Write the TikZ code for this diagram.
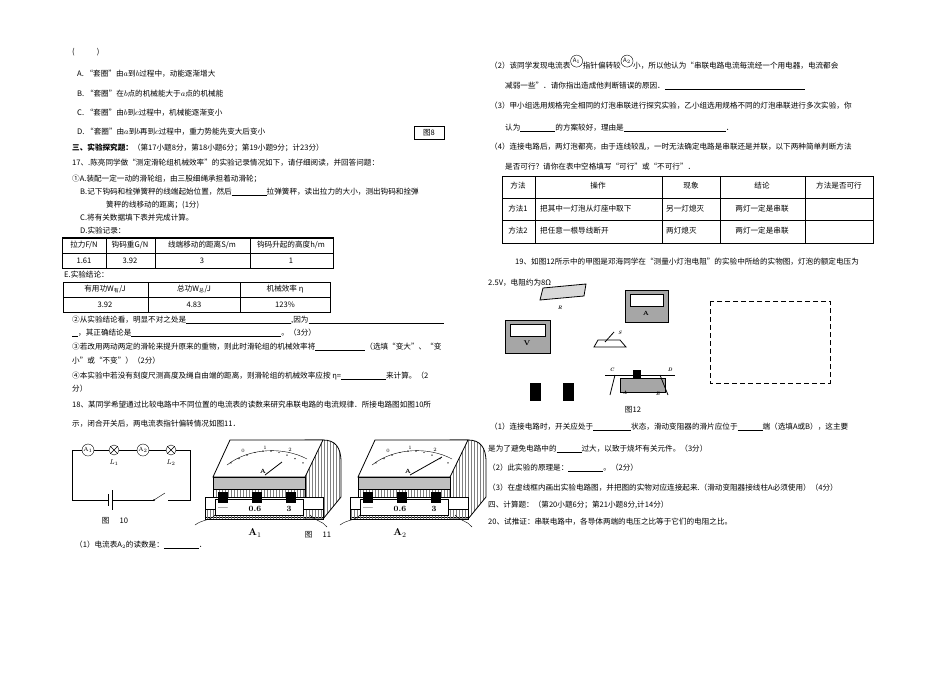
\documentclass[tikz,border=0pt]{standalone}
\usepackage{fontspec}
\newfontfamily\cjk{Noto Sans CJK SC}
\usetikzlibrary{patterns}
\tikzset{
 tx/.style={anchor=west,inner sep=0,font=\cjk\fontsize{7.6}{9}\selectfont},
 tc/.style={inner sep=0,font=\cjk\fontsize{7.6}{9}\selectfont},
 circ/.style={draw,circle,minimum size=12pt,inner sep=0,font=\fontsize{6}{6}\selectfont},
 lamp/.style={draw,circle,minimum size=10pt,inner sep=0},
 hatch/.style={pattern=vertical lines,pattern color=gray},
}
\newcommand\bl[1]{\rule[-1pt]{#1pt}{0.4pt}}
\newcommand\mymeter[4]{%
\begin{scope}[shift={(#1,#2)}]
 \draw[thick,hatch] (100,3) -- (118,3) .. controls (130,3) and (136,10) .. (136,25) -- (136,60) -- (118,82) -- (100,82) -- cycle;
 \draw[thick,fill=white] (25,3) -- (118,3) -- (100,40) -- (8,40) -- cycle;
 \draw[fill=gray!50] (8,40) -- (100,40) -- (100,52) -- (8,52) -- cycle;
 \draw[hatch] (8,52) rectangle (100,60);
 \draw[thick,fill=white] (0,60) rectangle (118,80);
 \draw[hatch] (0,72) rectangle (118,82);
 \draw[fill=white] (10,62) rectangle (98,78);
 \foreach \u in {18,52,86}{\fill (\u-5,55) rectangle (\u+5,66);}
 \node[font=\bfseries\fontsize{8}{8}\selectfont] at (18,72) {---};
 \node[font=\bfseries\fontsize{8}{8}\selectfont] at (50,72) {0.6};
 \node[font=\bfseries\fontsize{8}{8}\selectfont] at (84,72) {3};
 \draw (22,28) .. controls (45,10) and (80,10) .. (102,22);
 \foreach \q in {0.05,0.15,...,1}{\fill ({22+80*\q},{28-14*sin(180*\q)}) circle (0.7);}
 \node[font=\fontsize{5}{5}\selectfont] at (38,14) {0};
 \node[font=\fontsize{5}{5}\selectfont] at (60,11) {1};
 \node[font=\fontsize{5}{5}\selectfont] at (85,13) {2};
 \draw[thick] (60,38) -- (#3);
 \node[font=\bfseries\fontsize{6}{6}\selectfont] at (58,34) {A};
 \draw (-10,88) .. controls (-2,82) and (5,84) .. (10,78);
 \draw (105,78) .. controls (110,84) and (118,84) .. (122,90);
 \node[font=\bfseries\fontsize{10}{10}\selectfont] at (50,96) {#4};
\end{scope}}
\begin{document}
\begin{tikzpicture}[x=1pt,y=-1pt]
\useasboundingbox[fill=white] (0,0) rectangle (950,672);
% ---------- left column
\node[tx] (q0) at (72,52) {(\hspace{22pt})};
\node[tx] (qa) at (77,74) {A.\ “套圈”由$a$到$b$过程中，动能逐渐增大};
\node[tx] (qb) at (77,94) {B.\ “套圈”在$b$点的机械能大于$a$点的机械能};
\node[tx] (qc) at (77,113) {C.\ “套圈”由$b$到$c$过程中，机械能逐渐变小};
\node[tx] (qd) at (77,132) {D.\ “套圈”由$a$到$b$再到$c$过程中，重力势能先变大后变小};
\node[tc,draw,inner sep=3pt,minimum width=30pt] (f8) at (429,133) {图8};
\node[tx] (s3) at (72,148) {\textbf{三、实验探究题：}（第17小题8分，第18小题6分；第19小题9分；计23分）};
\node[tx] (q17) at (72,163) {17、.陈亮同学做“测定滑轮组机械效率”的实验记录情况如下，请仔细阅读，并回答问题：};
\node[tx] (q17a) at (72,179) {①A.装配一定一动的滑轮组，由三股细绳承担着动滑轮；};
\node[tx] (q17b) at (80,192) {B.记下钩码和栓弹簧秤的线端起始位置，然后\bl{35}拉弹簧秤，读出拉力的大小，测出钩码和拴弹};
\node[tx] (q17b2) at (106,205) {簧秤的线移动的距离；(1分)};
\node[tx] (q17c) at (80,218) {C.将有关数据填下表并完成计算。};
\node[tx] (q17d) at (80,231) {D.实验记录：};
\draw (62,237) -- (334,237);
\draw (62,238) rectangle (333,268) (62,253) -- (333,253);
\foreach \x in {106,155,250} \draw (\x,238) -- (\x,268);
\node[tc] at (84,245) {拉力F/N}; \node[tc] at (130,245) {钩码重G/N};
\node[tc] at (202,245) {线端移动的距离S/m}; \node[tc] at (291,245) {钩码升起的高度h/m};
\node[tc] at (84,261) {1.61}; \node[tc] at (130,261) {3.92};
\node[tc] at (202,261) {3}; \node[tc] at (291,261) {1};
\node[tx] (qe) at (64,275) {E.实验结论：};
\draw (63,282) rectangle (330,312) (63,297) -- (330,297);
\foreach \x in {148,240} \draw (\x,282) -- (\x,312);
\node[tc] at (105,289) {有用功W$_{\mbox{\tiny 有}}$/J}; \node[tc] at (194,289) {总功W$_{\mbox{\tiny 总}}$/J};
\node[tc] at (285,289) {机械效率 η};
\node[tc] at (105,305) {3.92}; \node[tc] at (194,305) {4.83}; \node[tc] at (285,305) {123\%};
\node[tx] (q2) at (72,320) {②从实验结论看，明显不对之处是\bl{105},因为\bl{135}};
\node[tx] (q2b) at (72,333) {\bl{6}，其正确结论是\bl{150}。（3分）};
\node[tx] (q3) at (72,347) {③若改用两动两定的滑轮来提升原来的重物，则此时滑轮组的机械效率将\bl{50}（选填“变大”、“变};
\node[tx] (q3b) at (72,361) {小”或“不变”）（2分）};
\node[tx] (q4) at (72,376) {④本实验中若没有刻度尺测高度及绳自由端的距离，则滑轮组的机械效率应按 η=\bl{45}来计算。（2};
\node[tx] (q4b) at (72,389) {分）};
\node[tx] (q18) at (72,405) {18、某同学希望通过比较电路中不同位置的电流表的读数来研究串联电路的电流规律．所接电路图如图10所};
\node[tx] (q18b) at (72,424) {示，闭合开关后，两电流表指针偏转情况如图11．};
% circuit fig 10
\node[circ] (a1) at (88,450) {A$_1$};
\node[lamp] (l1) at (114,450) {};
\node[circ] (a2) at (143,450) {A$_2$};
\node[lamp] (l2) at (171,450) {};
\foreach \n in {l1,l2}{\draw (\n.north west)--(\n.south east) (\n.north east)--(\n.south west);}
\node[tc,font=\itshape\fontsize{7}{7}\selectfont] at (114,463) {L$_1$};
\node[tc,font=\itshape\fontsize{7}{7}\selectfont] at (171,463) {L$_2$};
\coordinate (tl) at (72,450); \coordinate (tr) at (190,450);
\coordinate (bl) at (72,500); \coordinate (br) at (190,500);
\coordinate (b1) at (108,500); \coordinate (b2) at (112,500);
\coordinate (s1) at (154,500); \coordinate (s2) at (165,493); \coordinate (s3) at (168,500);
\draw (a1.east)--(l1.west) (l1.east)--(a2.west) (a2.east)--(l2.west);
\draw (l2.east)--(tr)--(br)--(s3) (s1)--(b2) (b1)--(bl)--(tl)--(a1.west);
\draw[thick] (108,494)--(108,506); \draw (112,490)--(112,510);
\draw (s1)--(s2); \fill (s1) circle (1);
\node[tc] (f10) at (115,521) {图\hspace{10pt}10};
% meters fig 11
\mymeter{205}{437}{77,25}{A$_1$}
\mymeter{350}{437}{92,20}{A$_2$}
\node[tc] (f11) at (318,535) {图\hspace{10pt}11};
\node[tx] (q181) at (75,545) {（1）电流表A$_2$的读数是：\bl{35}．};
% ---------- right column
\node[tx] (r2) at (490,62) {（2）该同学发现电流表\raisebox{1pt}{\tikz\node[circ]{A$_1$};}指针偏转较\raisebox{1pt}{\tikz\node[circ]{A$_2$};}小，所以他认为“串联电路电流每流经一个用电器，电流都会};
\node[tx] (r2b) at (505,86) {减弱一些”．请你指出造成他判断错误的原因．\rule[-1pt]{140pt}{0.6pt}};
\node[tx] (r3) at (490,106) {（3）甲小组选用规格完全相同的灯泡串联进行探究实验，乙小组选用规格不同的灯泡串联进行多次实验，你};
\node[tx] (r3b) at (505,128) {认为\bl{35}的方案较好，理由是\rule[-1pt]{102pt}{0.6pt}．};
\node[tx] (r4) at (490,147) {（4）连接电路后，两灯泡都亮，由于连线较乱，一时无法确定电路是串联还是并联，以下两种简单判断方法};
\node[tx] (r4b) at (505,167) {是否可行？请你在表中空格填写“可行”或“不可行”．};
\draw[thick] (502,176) rectangle (873,243);
\draw (502,198)--(873,198) (502,220)--(873,220);
\foreach \x in {535,662,720,805} \draw (\x,176)--(\x,243);
\node[tc] at (518,186) {方法}; \node[tc] at (598,186) {操作}; \node[tc] at (691,186) {现象};
\node[tc] at (762,186) {结论}; \node[tc] at (839,186) {方法是否可行};
\node[tc] at (518,209) {方法1}; \node[tx] at (540,209) {把其中一灯泡从灯座中取下};
\node[tx] at (666,209) {另一灯熄灭}; \node[tc] at (762,209) {两灯一定是串联};
\node[tc] at (518,231) {方法2}; \node[tx] at (540,231) {把任意一根导线断开};
\node[tx] at (666,231) {两灯熄灭}; \node[tc] at (762,231) {两灯一定是串联};
\node[tx] (r19) at (515,262) {19、如图12所示中的甲图是邓海同学在“测量小灯泡电阻”的实验中所给的实物图，灯泡的额定电压为};
\node[tx] (r19b) at (488,283) {2.5V，电阻约为8Ω};
% fig 12 apparatus
\fill[white] (500,286) rectangle (700,296);
\draw[thick,fill=gray!30] (543,288)--(586,284)--(584,296)--(540,300)--cycle;
\node[tc,font=\itshape\bfseries\fontsize{5}{5}\selectfont] at (560,308) {R};
\draw[thick,fill=gray!70] (625,290) rectangle (668,322); \draw[fill=white] (630,294) rectangle (663,306);
\node[font=\bfseries\fontsize{6}{6}\selectfont] at (646,313) {A};
\draw[thick,fill=gray!70] (505,320) rectangle (550,353); \draw[fill=white] (510,324) rectangle (545,336);
\node[font=\bfseries\fontsize{7}{7}\selectfont] at (527,343) {V};
\draw[thick] (594,347)--(626,347)--(620,340)--(598,340)--cycle; \draw[thick] (605,342)--(614,332);
\node[font=\itshape\bfseries\fontsize{5}{5}\selectfont] at (620,333) {S};
\draw[fill=black] (530,383) rectangle (540,400); \draw[fill=black] (563,383) rectangle (573,400);
\draw[thick] (605,375)--(675,375); \draw[thick,fill=gray!70] (620,378) rectangle (665,392);
\fill (633,370) rectangle (641,378);
\draw[thick] (615,375)--(610,395) (660,375)--(668,395);
\node[font=\itshape\bfseries\fontsize{5}{5}\selectfont] at (612,370) {C};
\node[font=\itshape\bfseries\fontsize{5}{5}\selectfont] at (670,370) {D};
\node[font=\itshape\bfseries\fontsize{5}{5}\selectfont] at (625,393) {A};
\node[font=\itshape\bfseries\fontsize{5}{5}\selectfont] at (658,394) {B};
\draw[thick,dash pattern=on 5pt off 3pt] (710,301) rectangle (830,383);
\node[tc] (f12) at (633,410) {图12};
\node[tx] (s1q) at (490,427) {（1）连接电路时，开关应处于\rule[-1pt]{38pt}{0.6pt}状态，滑动变阻器的滑片应位于\bl{25}端（选填A或B），这主要};
\node[tx] (s1b) at (488,449) {是为了避免电路中的\bl{25}过大，以致于烧坏有关元件。（3分）};
\node[tx] (s2q) at (488,468) {（2）此实验的原理是：\rule[-1pt]{35pt}{0.6pt}。（2分）};
\node[tx] (s3q) at (488,488) {（3）在虚线框内画出实验电路图，并把图的实物对应连接起来.（滑动变阻器接线柱A必须使用）（4分）};
\node[tx] (s4) at (488,505) {四、计算题：（第20小题6分；第21小题8分,计14分）};
\node[tx] (s20) at (488,522) {20、试推证：串联电路中，各导体两端的电压之比等于它们的电阻之比。};
\end{tikzpicture}
\end{document}
